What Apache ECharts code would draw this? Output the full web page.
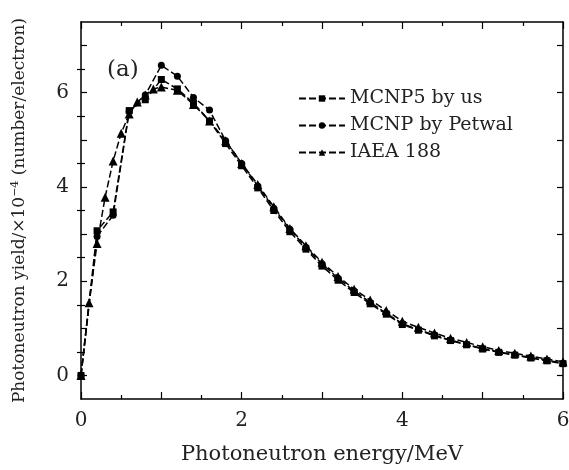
<!DOCTYPE html>
<html>
<head>
<meta charset="utf-8">
<script src="https://cdn.jsdelivr.net/npm/echarts@6/dist/echarts.min.js"></script>
<style>
html, body { margin: 0; padding: 0; background: #fff; }
#chart { width: 569px; height: 470px; }
</style>
</head>
<body>
<div id="chart"></div>
<script>
// energies (MeV)
var energyMcnp = [0, 0.2, 0.4, 0.6, 0.8, 1.0, 1.2, 1.4, 1.6, 1.8, 2.0, 2.2, 2.4, 2.6, 2.8, 3.0,
  3.2, 3.4, 3.6, 3.8, 4.0, 4.2, 4.4, 4.6, 4.8, 5.0, 5.2, 5.4, 5.6, 5.8, 6.0];
var energyIaea = [0, 0.1, 0.2, 0.3, 0.4, 0.5, 0.6, 0.7, 0.8, 0.9, 1.0, 1.2, 1.4, 1.6, 1.8, 2.0,
  2.2, 2.4, 2.6, 2.8, 3.0, 3.2, 3.4, 3.6, 3.8, 4.0, 4.2, 4.4, 4.6, 4.8, 5.0, 5.2, 5.4, 5.6, 5.8, 6.0];

// yields (x10^-4 per electron)
var mcnp5Us = [0, 3.07, 3.47, 5.62, 5.85, 6.28, 6.08, 5.78, 5.4, 4.92, 4.45, 3.98, 3.5, 3.05, 2.68, 2.32,
  2.02, 1.76, 1.52, 1.3, 1.08, 0.96, 0.84, 0.74, 0.65, 0.56, 0.49, 0.43, 0.37, 0.31, 0.25];
var mcnpPetwal = [0, 2.95, 3.4, 5.6, 5.95, 6.58, 6.35, 5.9, 5.63, 4.98, 4.5, 4.02, 3.55, 3.1, 2.72, 2.37,
  2.06, 1.79, 1.55, 1.32, 1.1, 0.97, 0.86, 0.75, 0.66, 0.57, 0.5, 0.44, 0.38, 0.32, 0.26];
var iaea188 = [0, 1.54, 2.8, 3.78, 4.55, 5.14, 5.55, 5.8, 5.95, 6.08, 6.12, 6.05, 5.75, 5.4, 4.98, 4.5,
  4.05, 3.58, 3.12, 2.75, 2.4, 2.1, 1.83, 1.6, 1.38, 1.15, 1.02, 0.9, 0.79, 0.7, 0.61, 0.53, 0.47, 0.41, 0.35, 0.29];

var xTicks = [0, 2, 4, 6];
var yTicks = [0, 2, 4, 6];

function pairs(xs, ys) {
  return xs.map(function (x, i) { return [x, ys[i]]; });
}

var font = 'DejaVu Serif';
var myChart = echarts.init(document.getElementById('chart'));

var lineStyle = { color: '#000', width: 1.5, type: [7, 3] };

function xAx(pos, labels) {
  return {
    type: 'value', position: pos, min: 0, max: 6, interval: 1,
    axisLine: { show: true, onZero: false, lineStyle: { color: '#000', width: 1.5 } },
    axisTick: { show: true, inside: true, length: 7, lineStyle: { color: '#000', width: 1.2 } },
    minorTick: { show: true, splitNumber: 2, length: 4, lineStyle: { color: '#000', width: 1.2 } },
    splitLine: { show: false },
    axisLabel: {
      show: labels, margin: 12, color: '#222', fontFamily: font, fontSize: 20,
      customValues: xTicks
    }
  };
}

function yAx(pos, labels) {
  return {
    type: 'value', position: pos, min: -0.5, max: 7.5, interval: 0.5,
    axisLine: { show: true, onZero: false, lineStyle: { color: '#000', width: 1.5 } },
    axisTick: { show: true, inside: true, length: 6, lineStyle: { color: '#000', width: 1.2 },
      customValues: [0, 1, 2, 3, 4, 5, 6, 7] },
    splitLine: { show: false },
    axisLabel: {
      show: labels, margin: 12, color: '#222', fontFamily: font, fontSize: 20,
      customValues: yTicks
    }
  };
}

function yMinor(pos) {
  return {
    type: 'value', position: pos, min: -0.5, max: 7.5, interval: 0.5,
    axisLine: { show: false },
    axisTick: { show: true, inside: true, length: 4, lineStyle: { color: '#000', width: 1.2 },
      customValues: [0.5, 1.5, 2.5, 3.5, 4.5, 5.5, 6.5] },
    splitLine: { show: false },
    axisLabel: { show: false }
  };
}

var option = {
  animation: false,
  backgroundColor: '#fff',
  grid: { left: 81, right: 6, top: 22, bottom: 71, outerBoundsMode: 'none', containLabel: false },
  graphic: [{
    type: 'text', left: 107, top: 59,
    style: { text: '(a)', font: '23px "DejaVu Serif"', fill: '#222' }
  }],
  legend: {
    orient: 'vertical', left: 293, top: 84, itemGap: 8,
    itemWidth: 46, itemHeight: 8,
    textStyle: { fontFamily: font, fontSize: 19, color: '#222' },
    data: ['MCNP5 by us', 'MCNP by Petwal', 'IAEA 188']
  },
  xAxis: [
    Object.assign(xAx('bottom', true), {
      name: 'Photoneutron energy/MeV', nameLocation: 'middle', nameGap: 45,
      nameTextStyle: { fontFamily: font, fontSize: 21, color: '#222' }
    }),
    xAx('top', false)
  ],
  yAxis: [
    Object.assign(yAx('left', true), {
      name: 'Photoneutron yield/×10{sup|−4} (number/electron)',
      nameLocation: 'middle', nameGap: 52, nameRotate: 90,
      nameTextStyle: {
        fontFamily: font, fontSize: 17, color: '#222',
        rich: { sup: { fontFamily: font, fontSize: 11, verticalAlign: 'top', padding: [0, 0, 8, 0] } }
      }
    }),
    yAx('right', false),
    yMinor('left'),
    yMinor('right')
  ],
  series: [
    {
      name: 'MCNP5 by us', type: 'line', xAxisIndex: 0, yAxisIndex: 0,
      data: pairs(energyMcnp, mcnp5Us),
      symbol: 'rect', symbolSize: 7,
      lineStyle: lineStyle, itemStyle: { color: '#000' }
    },
    {
      name: 'MCNP by Petwal', type: 'line', xAxisIndex: 0, yAxisIndex: 0,
      data: pairs(energyMcnp, mcnpPetwal),
      symbol: 'circle', symbolSize: 7,
      lineStyle: lineStyle, itemStyle: { color: '#000' }
    },
    {
      name: 'IAEA 188', type: 'line', xAxisIndex: 0, yAxisIndex: 0,
      data: pairs(energyIaea, iaea188),
      symbol: 'triangle', symbolSize: 9,
      lineStyle: lineStyle, itemStyle: { color: '#000' }
    }
  ]
};
option && myChart.setOption(option);
</script>
</body>
</html>
